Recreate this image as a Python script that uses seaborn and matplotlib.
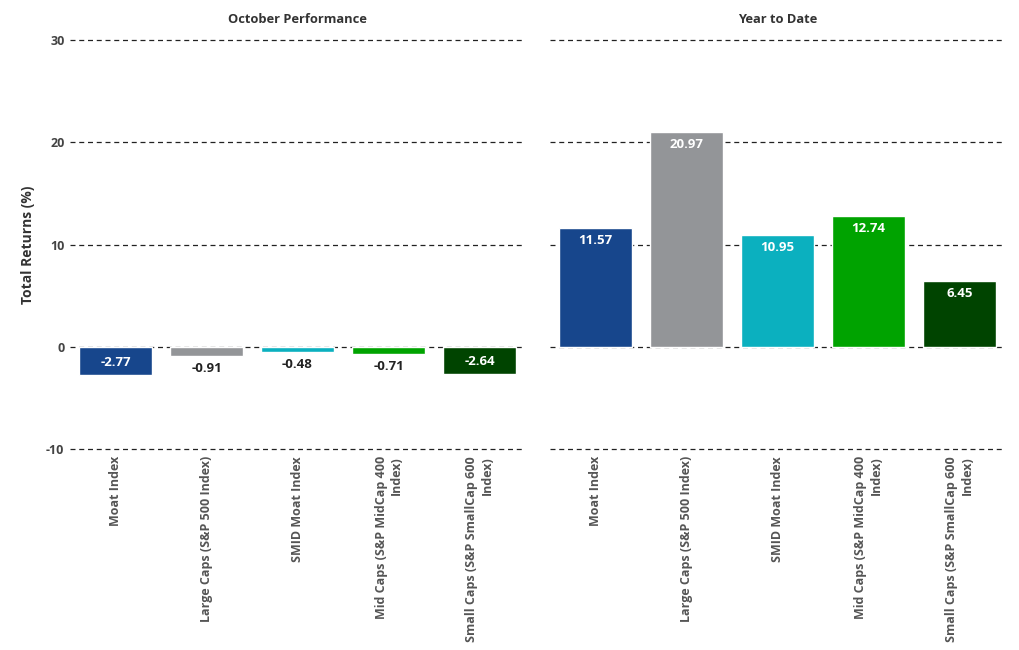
import pandas as pd
import numpy as np
import matplotlib
matplotlib.use("Agg")
import matplotlib.pyplot as plt
import seaborn as sns

categories = [
    "Moat Index",
    "Large Caps (S&P 500 Index)",
    "SMID Moat Index",
    "Mid Caps (S&P MidCap 400\nIndex)",
    "Small Caps (S&P SmallCap 600\nIndex)",
]
october = [-2.77, -0.91, -0.48, -0.71, -2.64]
ytd = [11.57, 20.97, 10.95, 12.74, 6.45]
colors = ["#17468C", "#939598", "#0BB0BF", "#00A300", "#004400"]
panel_titles = ["October Performance", "Year to Date"]
yticks = [-10, 0, 10, 20, 30]

sns.set_style("white")
plt.rcParams["font.family"] = ["Open Sans", "DejaVu Sans"]
plt.rcParams["axes.unicode_minus"] = False

FS = 9

fig = plt.figure(figsize=(10.2, 6.5), dpi=100)
ax_oct = fig.add_axes([70 / 1020, 201 / 650, 455 / 1020, 409 / 650])
ax_ytd = fig.add_axes([550 / 1020, 201 / 650, 455 / 1020, 409 / 650])

palette = dict(zip(categories, colors))


def draw_panel(ax, values, title, show_y):
    df = pd.DataFrame({"Index": categories, "Return": values})
    sns.barplot(data=df, x="Index", y="Return", hue="Index", palette=palette,
                order=categories, hue_order=categories, legend=False,
                width=0.8, saturation=1, ax=ax, zorder=2)
    ax.set_ylim(-10, 30)
    ax.set_yticks(yticks)
    ax.set_xlim(-0.5, len(categories) - 0.5)
    ax.yaxis.grid(True, linestyle=(0, (4, 3)), color="#222222", linewidth=0.9, zorder=1)
    for gl in ax.get_ygridlines():
        gl.set_clip_on(False)
    ax.xaxis.grid(False)
    ax.set_axisbelow(True)
    for s in ax.spines.values():
        s.set_visible(False)
    ax.tick_params(axis="both", length=0)
    ax.tick_params(axis="y", pad=4)
    ax.set_xlabel("")
    ax.set_title(title, fontsize=9.3, fontweight="bold", color="#333333", pad=12)
    if show_y:
        ax.set_ylabel("Total Returns (%)", fontsize=10, fontweight="bold",
                      color="#333333", labelpad=8)
        for lab in ax.get_yticklabels():
            lab.set_fontweight("bold")
            lab.set_fontsize(FS)
            lab.set_color("#444444")
    else:
        ax.set_ylabel("")
        ax.set_yticklabels([])
    ax.set_xticks(range(len(categories)))
    ax.set_xticklabels(categories, rotation=90, va="top", ha="center")
    for lab in ax.get_xticklabels():
        lab.set_fontweight("bold")
        lab.set_fontsize(FS)
        lab.set_color("#555555")
        lab.set_multialignment("right")
    ax.tick_params(axis="x", pad=5)

    for bar, v in zip(ax.patches, values):
        xc = bar.get_x() + bar.get_width() / 2
        sign = 1 if v >= 0 else -1
        if abs(v) > 2:
            off, col = -9 * sign, "white"
        else:
            off, col = 9 * sign, "#222222"
        ax.annotate(f"{v:.2f}", (xc, v), xytext=(0, off), textcoords="offset points",
                    ha="center", va="center", fontsize=9.5, fontweight="bold",
                    color=col, zorder=3)


draw_panel(ax_oct, october, panel_titles[0], True)
draw_panel(ax_ytd, ytd, panel_titles[1], False)

fig.savefig("out.png", dpi=100, facecolor="white")
